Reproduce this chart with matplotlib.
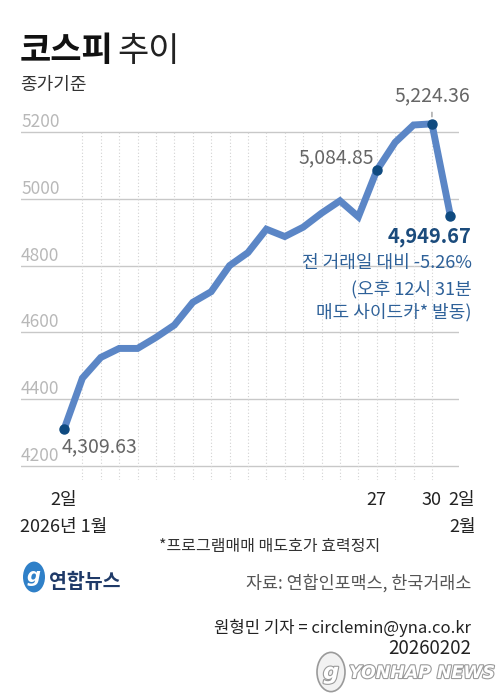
# -*- coding: UTF-8 -*-
"""KOSPI closing price trend, Jan 2 - Feb 2 2026 (Yonhap style graphic)"""

import matplotlib.pyplot as plt
import matplotlib.patheffects as pe
from matplotlib.patches import Circle
import matplotlib.transforms as mtransforms

plt.rcParams['font.family'] = ['Noto Sans CJK KR', 'DejaVu Sans']

#+++++++++++++++++++++++++++++++++++++++++++++++++++++++++++++++++++++++++++++#

# trading days, Jan 2 .. Feb 2
DAYS = ['1/2', '1/5', '1/6', '1/7', '1/8', '1/9', '1/12', '1/13', '1/14',
        '1/15', '1/16', '1/19', '1/20', '1/21', '1/22', '1/23', '1/26',
        '1/27', '1/28', '1/29', '1/30', '2/2']
KOSPI = [4309.63, 4463, 4525, 4552, 4552, 4585, 4622, 4690, 4722,
         4800, 4839, 4909, 4887, 4915, 4957, 4994, 4946,
         5084.85, 5169, 5221, 5224.36, 4949.67]

Y_TICKS = [4200, 4400, 4600, 4800, 5000, 5200]
MARKED = [0, 17, 20, 21]

W, H = 499, 699
LINE_C = '#5b86c6'
DOT_C = '#0f4a80'
NAVY = '#1b4b7c'
BLUE_TXT = '#2e6199'
GRAY = '#666666'


def px(x, y):
  return x / W, 1 - y / H


#+++++++++++++++++++++++++++++++++++++++++++++++++++++++++++++++++++++++++++++#

fig = plt.figure(figsize=(W / 100, H / 100), dpi=100)
fig.patch.set_facecolor('white')

ax = fig.add_axes([21 / W, 1 - 480 / H, 438 / W, 380 / H])
ax.set_xlim(-2.337, 21.47)
ax.set_ylim(4158.1, 5295.8)
ax.axis('off')

x = list(range(len(DAYS)))

# grid
for v in Y_TICKS:
  ax.axhline(v, color='#c8c8c8', lw=1.0, zorder=1)
  ax.annotate(str(v), xy=(0, v), xycoords=('axes fraction', 'data'),
              xytext=(0, 3.6), textcoords='offset points',
              ha='left', va='baseline', fontsize=12.5, color='#b8b8b8')
ax.vlines(x[1:-1], 4158.1, 5200, colors='#d2d2d2', lw=0.8,
          linestyles=(0, (1, 2)), zorder=1)

# line
ax.plot(x, KOSPI, color=LINE_C, lw=5, solid_joinstyle='miter',
        solid_capstyle='butt', zorder=3)
ax.plot([x[i] for i in MARKED], [KOSPI[i] for i in MARKED], 'o',
        color=DOT_C, ms=6.5, zorder=4)

# value labels
ax.annotate('4,309.63', xy=(x[0], KOSPI[0]), xytext=(-1.7, -16.3),
            textcoords='offset points', ha='left', va='baseline',
            fontsize=14, color=GRAY)
ax.annotate('5,084.85', xy=(x[17], KOSPI[17]), xytext=(-1.7, 5.5),
            textcoords='offset points', ha='right', va='baseline',
            fontsize=14, color=GRAY)
ax.annotate('5,224.36', xy=(x[20], KOSPI[20]), xytext=(0, 16),
            textcoords='offset points', ha='center', va='baseline',
            fontsize=14, color=GRAY,
            arrowprops=dict(arrowstyle='-', color='#888888', lw=0.8,
                            shrinkA=2, shrinkB=5))
ax.annotate('4,949.67', xy=(x[21], KOSPI[21]), xytext=(15.3, -19.4),
            textcoords='offset points', ha='right', va='baseline',
            fontsize=14.5, fontweight='bold', color=NAVY)
for txt, dy in [('전 거래일 대비 -5.26%', -37.4),
                ('(오후 12시 31분', -56.9),
                ('매도 사이드카* 발동)', -73.4)]:
  ax.annotate(txt, xy=(x[21], KOSPI[21]), xytext=(15.3, dy),
              textcoords='offset points', ha='right', va='baseline',
              fontsize=13, color=BLUE_TXT)

# x labels
trans = mtransforms.blended_transform_factory(ax.transData, ax.transAxes)
for i, lab, dx in [(0, '2일', 0), (17, '27', 0), (20, '30', 0), (21, '2일', 8)]:
  ax.annotate(lab, xy=(x[i], 0), xycoords=trans, xytext=(dx, -18),
              textcoords='offset points', ha='center', va='baseline',
              fontsize=13, color='#222222')
ax.annotate('2026년 1월', xy=(x[0], 0), xycoords=trans, xytext=(0, -37.4),
            textcoords='offset points', ha='center', va='baseline',
            fontsize=13, color='#222222')
ax.annotate('2월', xy=(x[21], 0), xycoords=trans, xytext=(9, -37.4),
            textcoords='offset points', ha='center', va='baseline',
            fontsize=13, color='#222222')

# titles
fig.text(*px(20, 61), '코스피', fontsize=24.5, fontweight='bold',
         color='#111111', ha='left', va='baseline')
fig.text(*px(117, 61), '추이', fontsize=24.5, color='#222222',
         ha='left', va='baseline')
fig.text(*px(20, 90), '종가기준', fontsize=13, color='#333333',
         ha='left', va='baseline')

# footnotes
fig.text(*px(270, 551), '*프로그램매매 매도호가 효력정지', fontsize=11.5,
         color='#333333', ha='center', va='baseline')
fig.text(*px(471, 589), '자료: 연합인포맥스, 한국거래소', fontsize=12.5,
         color='#555555', ha='right', va='baseline')
fig.text(*px(471, 633), '원형민 기자 = circlemin@yna.co.kr', fontsize=12,
         color='#222222', ha='right', va='baseline')
fig.text(*px(471, 654), '20260202', fontsize=13.5,
         color='#222222', ha='right', va='baseline')

# logo
fig.patches.append(Circle(px(34, 577), 11 / W, transform=fig.transFigure,
                          facecolor='#2f80c8', edgecolor='none'))
fig.text(*px(34, 582), 'g', fontsize=14, fontweight='bold', style='italic',
         color='white', ha='center', va='baseline', family='DejaVu Sans')
fig.text(*px(49, 588), '연합뉴스', fontsize=14, fontweight='bold',
         color='#1f3a68', ha='left', va='baseline')

# watermark
halo = [pe.withStroke(linewidth=1.6, foreground='#9a9a9a')]
fig.patches.append(Circle(px(331, 672), 14 / W, transform=fig.transFigure,
                          facecolor='#f2f2f2', edgecolor='#9a9a9a', lw=1.2))
fig.text(*px(331, 679), 'g', fontsize=16, fontweight='bold', style='italic',
         color='white', ha='center', va='baseline', family='DejaVu Sans',
         path_effects=halo)
fig.text(*px(349, 678), 'YONHAP NEWS', fontsize=12.5, fontweight='bold',
         style='italic', color='white', ha='left', va='baseline',
         family='DejaVu Sans', path_effects=halo)

plt.savefig('out.png', dpi=100)
